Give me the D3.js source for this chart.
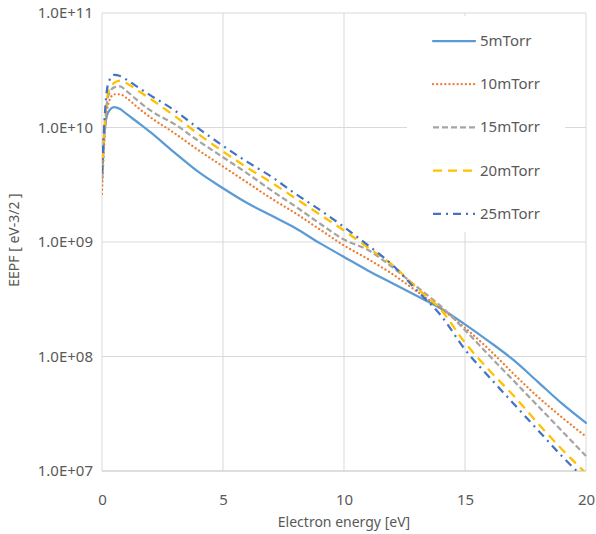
<!DOCTYPE html>
<html>
<head>
<meta charset="utf-8">
<script src="https://cdn.jsdelivr.net/npm/d3@7"></script>
<style>
  html, body { margin: 0; padding: 0; background: #fff; }
  svg { display: block; font-family: "Noto Sans", "DejaVu Sans", sans-serif; }
</style>
</head>
<body>
<svg id="chart" width="596" height="534"></svg>
<script>
// ---- data ----
const energy = [0, 0.1, 0.25, 0.5, 0.75, 1, 1.5, 2, 3, 4, 5, 6, 7, 8, 9, 10, 11, 12, 13, 14, 15, 16, 17, 18, 19, 20];
const eepf5  = [3.55e9, 8.91e9, 1.35e10, 1.51e10, 1.45e10, 1.32e10, 1.10e10, 9.12e9, 6.03e9, 4.07e9, 2.95e9, 2.19e9, 1.70e9, 1.32e9, 9.77e8, 7.41e8, 5.62e8, 4.37e8, 3.39e8, 2.63e8, 1.91e8, 1.35e8, 9.33e7, 6.03e7, 3.89e7, 2.63e7];
const eepf10 = [2.63e9, 7.59e9, 1.58e10, 1.95e10, 1.95e10, 1.82e10, 1.48e10, 1.23e10, 8.91e9, 6.31e9, 4.57e9, 3.31e9, 2.40e9, 1.78e9, 1.29e9, 9.33e8, 7.08e8, 5.25e8, 3.72e8, 2.63e8, 1.78e8, 1.15e8, 7.08e7, 4.47e7, 2.95e7, 2.00e7];
const eepf15 = [3.55e9, 8.91e9, 1.86e10, 2.24e10, 2.29e10, 2.09e10, 1.70e10, 1.41e10, 1.07e10, 7.59e9, 5.50e9, 3.98e9, 2.82e9, 2.04e9, 1.45e9, 1.05e9, 8.51e8, 6.03e8, 4.07e8, 2.75e8, 1.70e8, 1.02e8, 6.17e7, 3.72e7, 2.24e7, 1.35e7];
const eepf20 = [3.98e9, 1.00e10, 2.00e10, 2.45e10, 2.57e10, 2.45e10, 2.09e10, 1.78e10, 1.26e10, 8.71e9, 6.17e9, 4.47e9, 3.31e9, 2.40e9, 1.74e9, 1.26e9, 8.91e8, 6.31e8, 3.98e8, 2.57e8, 1.32e8, 7.59e7, 4.57e7, 2.63e7, 1.55e7, 9.55e6];
const eepf25 = [3.98e9, 1.12e10, 2.40e10, 2.88e10, 2.82e10, 2.63e10, 2.24e10, 1.91e10, 1.41e10, 9.77e9, 6.92e9, 5.01e9, 3.72e9, 2.63e9, 1.91e9, 1.35e9, 9.33e8, 6.31e8, 3.80e8, 2.29e8, 1.15e8, 6.61e7, 3.89e7, 2.29e7, 1.35e7, 8.32e6];
const seriesNames = ["5mTorr", "10mTorr", "15mTorr", "20mTorr", "25mTorr"];
const xTicks = [0, 5, 10, 15, 20];
const yTicks = [1e7, 1e8, 1e9, 1e10, 1e11];
const yTickLabels = ["1.0E+07", "1.0E+08", "1.0E+09", "1.0E+10", "1.0E+11"];

// ---- styles ----
const seriesData = [eepf5, eepf10, eepf15, eepf20, eepf25];
const styles = [
  { color: "#5b9bd5", dash: null, cap: "round" },
  { color: "#ed7d31", dash: "0.1 4", cap: "round" },
  { color: "#a5a5a5", dash: "6 3", cap: "butt" },
  { color: "#ffc000", dash: "9 6", cap: "butt" },
  { color: "#4472c4", dash: "8 5 2 5", cap: "butt" }
];

const svg = d3.select("#chart");
const L = 102, R = 586, T = 13, B = 471;

const x = d3.scaleLinear().domain([0, 20]).range([L, R]);
const y = d3.scaleLog().domain([1e7, 1e11]).range([B, T]);

// grid
const grid = svg.append("g");
grid.selectAll("line.vx").data(xTicks).enter().append("line")
  .attr("x1", d => x(d)).attr("x2", d => x(d)).attr("y1", T).attr("y2", B)
  .attr("stroke", "#d9d9d9").attr("stroke-width", 1);
grid.selectAll("line.hy").data(yTicks).enter().append("line")
  .attr("x1", L).attr("x2", R).attr("y1", d => y(d)).attr("y2", d => y(d))
  .attr("stroke", "#d9d9d9").attr("stroke-width", 1);
// bottom axis line
svg.append("line").attr("x1", L).attr("x2", R).attr("y1", B).attr("y2", B)
  .attr("stroke", "#d0d0d0").attr("stroke-width", 1.2);

// axes via d3 axis generators (text only)
const xAxis = svg.append("g").attr("transform", `translate(0,${B})`)
  .call(d3.axisBottom(x).tickValues(xTicks).tickSize(0).tickPadding(23).tickFormat(d3.format("d")));
xAxis.select(".domain").remove();
xAxis.selectAll("text").attr("fill", "#595959").style("font-size", "15px")
  .style("font-family", "'Noto Sans', sans-serif");

const yAxis = svg.append("g").attr("transform", `translate(${L},0)`)
  .call(d3.axisLeft(y).tickValues(yTicks).tickSize(0).tickPadding(9)
    .tickFormat((d, i) => yTickLabels[i]));
yAxis.select(".domain").remove();
yAxis.selectAll("text").attr("fill", "#595959").style("font-size", "15px")
  .style("font-family", "'Noto Sans', sans-serif");

// titles
svg.append("text").attr("x", (L + R) / 2).attr("y", 527).attr("text-anchor", "middle")
  .attr("fill", "#595959").style("font-size", "14px").text("Electron energy [eV]");
svg.append("text").attr("transform", "translate(19,240) rotate(-90)").attr("text-anchor", "middle")
  .attr("fill", "#595959").style("font-size", "14px").text("EEPF [ eV-3/2 ]");

// clip
svg.append("clipPath").attr("id", "plotclip").append("rect")
  .attr("x", L).attr("y", T - 2).attr("width", R - L + 2).attr("height", B - T + 2);

const line = d3.line().x(d => x(d[0])).y(d => y(d[1])).curve(d3.curveMonotoneX);
const lines = svg.append("g").attr("clip-path", "url(#plotclip)");
seriesData.forEach((vals, i) => {
  const pts = energy.map((e, k) => [e, vals[k]]);
  lines.append("path").datum(pts).attr("d", line)
    .attr("fill", "none").attr("stroke", styles[i].color).attr("stroke-width", 2.25)
    .attr("stroke-linecap", styles[i].cap).attr("stroke-linejoin", "round")
    .attr("stroke-dasharray", styles[i].dash);
});

// legend
const lg = svg.append("g");
lg.append("rect").attr("x", 407).attr("y", 16).attr("width", 158).attr("height", 216).attr("fill", "#fff");
seriesNames.forEach((name, i) => {
  const yy = 41 + i * 43.2;
  lg.append("line").attr("x1", 433).attr("x2", 475).attr("y1", yy).attr("y2", yy)
    .attr("stroke", styles[i].color).attr("stroke-width", 2.25)
    .attr("stroke-linecap", styles[i].cap).attr("stroke-dasharray", styles[i].dash);
  lg.append("text").attr("x", 480).attr("y", yy + 5).attr("fill", "#595959")
    .style("font-size", "15px").text(name);
});
</script>
</body>
</html>
